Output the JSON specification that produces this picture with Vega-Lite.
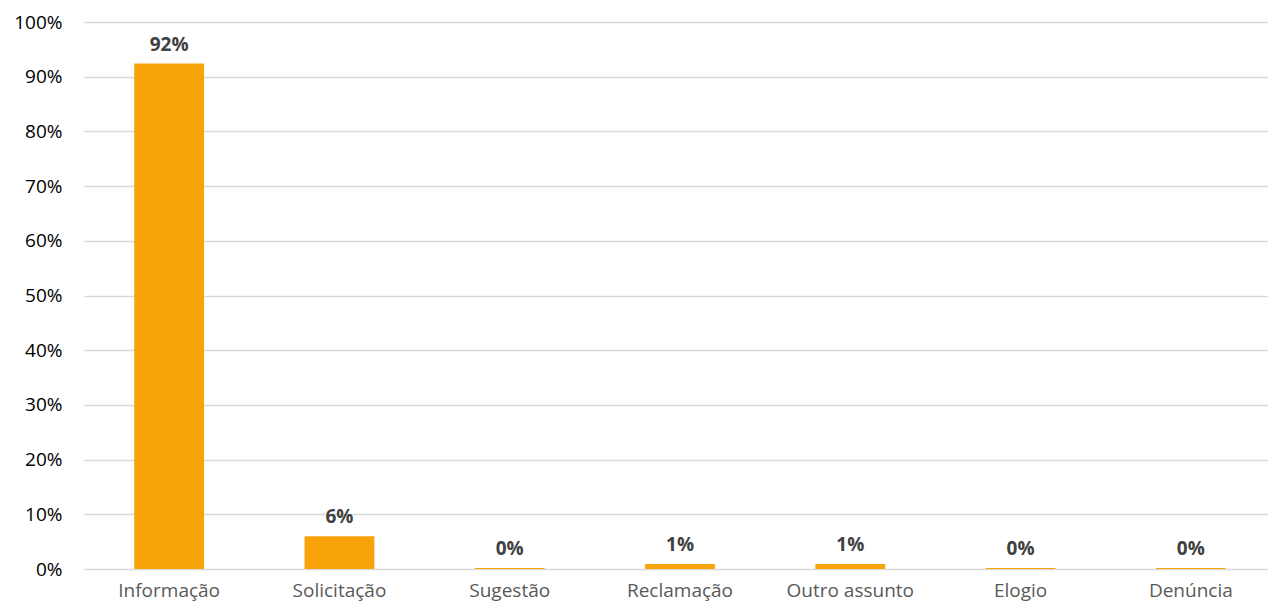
{
  "$schema": "https://vega.github.io/schema/vega-lite/v6.json",
  "width": 1192,
  "height": 547,
  "autosize": "none",
  "padding": {"left": 84, "top": 22, "right": 0, "bottom": 43},
  "background": "white",
  "data": {
    "values": [
      {"categoria": "Informação", "valor": 0.924},
      {"categoria": "Solicitação", "valor": 0.06},
      {"categoria": "Sugestão", "valor": 0.002},
      {"categoria": "Reclamação", "valor": 0.009},
      {"categoria": "Outro assunto", "valor": 0.009},
      {"categoria": "Elogio", "valor": 0.002},
      {"categoria": "Denúncia", "valor": 0.002}
    ]
  },
  "config": {
    "view": {"stroke": null},
    "font": "Open Sans"
  },
  "encoding": {
    "x": {
      "field": "categoria",
      "type": "nominal",
      "sort": null,
      "scale": {"paddingInner": 0.59, "paddingOuter": 0.295},
      "axis": {
        "title": null,
        "labelAngle": 0,
        "labelFontSize": 19,
        "labelColor": "#595959",
        "labelPadding": 12,
        "ticks": false,
        "domain": false
      }
    },
    "y": {
      "field": "valor",
      "type": "quantitative",
      "scale": {"domain": [0, 1]},
      "axis": {
        "title": null,
        "format": ".0%",
        "values": [0, 0.1, 0.2, 0.3, 0.4, 0.5, 0.6, 0.7, 0.8, 0.9, 1],
        "labelFontSize": 19,
        "labelColor": "#000000",
        "labelPadding": 22,
        "ticks": false,
        "domain": false,
        "gridColor": "#d9d9d9",
        "gridWidth": 1.5
      }
    }
  },
  "layer": [
    {"mark": {"type": "bar", "color": "#F9A30A"}},
    {
      "mark": {"type": "text", "dy": -19, "fontSize": 19, "fontWeight": "bold", "color": "#404040"},
      "encoding": {"text": {"field": "valor", "type": "quantitative", "format": ".0%"}}
    }
  ]
}
